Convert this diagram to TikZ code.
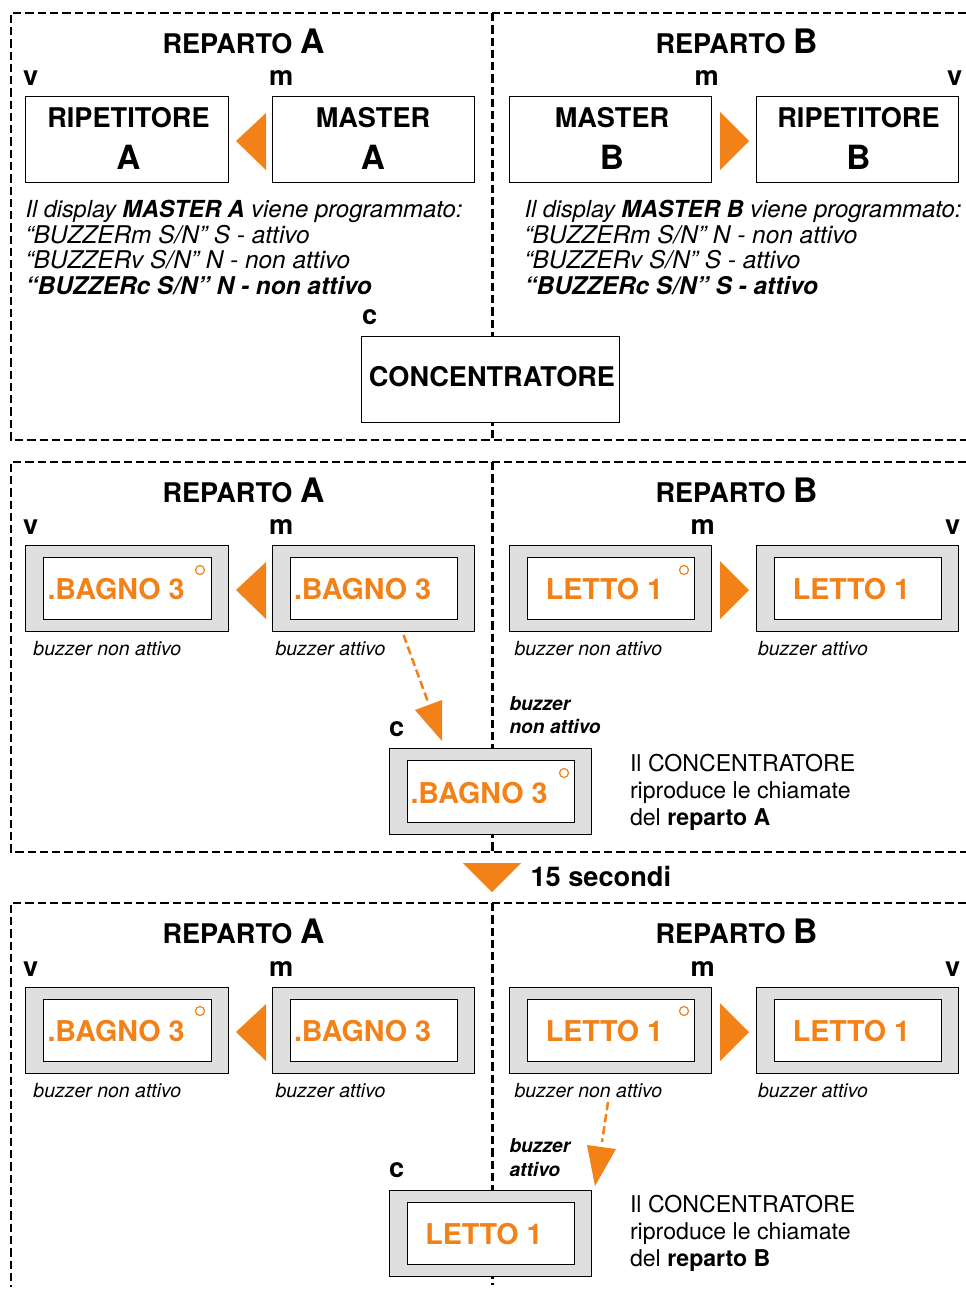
\documentclass[tikz,border=0pt]{standalone}
\usepackage{fontspec}
\setmainfont{TeX Gyre Heros}
\definecolor{orng}{HTML}{F28118}
\definecolor{panelgray}{HTML}{E0DFE0}
\newcommand{\fsz}[1]{\fontsize{#1}{#1}\selectfont}
\tikzset{
  x=0.75pt,y=-0.75pt,
  frameline/.style={line width=1.9pt,dash pattern=on 6.2pt off 3pt},
  plainbox/.style={draw=black,line width=0.85pt,fill=white,shift={(-0.4,-0.4)}},
  outerbox/.style={draw=black,line width=0.85pt,fill=panelgray,shift={(-0.4,-0.4)}},
  innerbox/.style={draw=black,line width=0.6pt,fill=white,shift={(-0.4,-0.4)}},
  led/.style={draw=orng,line width=0.9pt,fill=white},
  tri/.style={fill=orng,draw=none},
  lbl/.style={anchor=base west,inner sep=0pt,outer sep=0pt},
  ctr/.style={anchor=base,inner sep=0pt,outer sep=0pt},
  title/.style={lbl,font=\fsz{20.3}\bfseries},
  tag/.style={lbl,font=\fsz{20.4}\bfseries},
  big/.style={ctr,font=\fsz{20.35}\bfseries},
  bigger/.style={ctr,font=\fsz{25}\bfseries},
  prog/.style={lbl,font=\fsz{18.3}\itshape},
  progb/.style={lbl,font=\fsz{18.3}\bfseries\itshape},
  buz/.style={lbl,font=\fsz{14.6}\itshape},
  buzb/.style={lbl,font=\fsz{14.4}\bfseries\itshape},
  info/.style={lbl,font=\fsz{17.35}},
  disp/.style={ctr,font=\fsz{21.5}\bfseries,text=orng},
  orngdash/.style={draw=orng,line width=1.9pt,dash pattern=on 6.2pt off 3pt},
}
\newcommand{\dispbox}[6]{%
  \draw[outerbox] (#2,#3) rectangle (#4,#5);
  \draw[innerbox] ({#2+17.5},{#3+12}) rectangle ({#4-17.5},{#5-12});
}
\begin{document}
\begin{tikzpicture}
\useasboundingbox (0,0) rectangle (966,1289);
\fill[white] (0,0) rectangle (966,1289);
% frames
\draw[frameline] (966,13) -- (11,13) -- (11,440) -- (966,440);
\draw[frameline] (492.5,13) -- (492.5,440);
\draw[frameline] (966,462) -- (11,462) -- (11,852) -- (966,852);
\draw[frameline] (492.5,462) -- (492.5,852);
\draw[frameline] (966,903) -- (11,903) -- (11,1287);
\draw[frameline] (492.5,903) -- (492.5,1285);

% ===== Panel 1 =====
\node[title] (t1a) at (162.5,53) {REPARTO \fsz{25.3}A};
\node[title] (t1b) at (655.5,53) {REPARTO \fsz{25.3}B};
\node[tag] (v1a) at (23,85) {v};
\node[tag] (m1a) at (269,85) {m};
\node[tag] (m1b) at (694.5,85) {m};
\node[tag] (v1b) at (947,85) {v};
\draw[plainbox] (26,97) rectangle (229,183);
\draw[plainbox] (273,97) rectangle (475,183);
\draw[plainbox] (510,97) rectangle (712,183);
\draw[plainbox] (757,97) rectangle (959,183);
\node[big] (r1at) at (128.5,127) {RIPETITORE};
\node[bigger] (r1al) at (128.5,169) {A};
\node[big] (m1at) at (373,127) {MASTER};
\node[bigger] (m1al) at (373,169) {A};
\node[big] (m1bt) at (612,127) {MASTER};
\node[bigger] (m1bl) at (612,169) {B};
\node[big] (r1bt) at (858.5,127) {RIPETITORE};
\node[bigger] (r1bl) at (858.5,169) {B};
\fill[tri] (266,113) -- (236,141) -- (266,170) -- cycle;
\fill[tri] (720,112) -- (749,141) -- (720,170) -- cycle;
\node[prog,font=\fsz{17.6}\itshape] (p1a1) at (25.5,217) {Il display {\bfseries MASTER A} {\fsz{17.95}viene programmato:}};
\node[prog] (p1a2) at (25.5,243) {“BUZZERm S/N” S - attivo};
\node[prog] (p1a3) at (25.5,268) {“BUZZERv S/N” N - non attivo};
\node[progb] (p1a4) at (25.5,294) {“BUZZERc S/N” N - non attivo};
\node[prog,font=\fsz{17.6}\itshape] (p1b1) at (524.5,217) {Il display {\bfseries MASTER B} {\fsz{17.95}viene programmato:}};
\node[prog] (p1b2) at (524.5,243) {“BUZZERm S/N” N - non attivo};
\node[prog] (p1b3) at (524.5,268) {“BUZZERv S/N” S - attivo};
\node[progb] (p1b4) at (524.5,294) {“BUZZERc S/N” S - attivo};
\node[tag] (c1) at (362,324) {c};
\draw[plainbox] (362,337) rectangle (620,423);
\node[big] (conc) at (492,386) {CONCENTRATORE};

% ===== Panel 2 =====
\node[title] (t2a) at (162.5,502) {REPARTO \fsz{25.3}A};
\node[title] (t2b) at (655.5,502) {REPARTO \fsz{25.3}B};
\node[tag] (v2a) at (23,534) {v};
\node[tag] (m2a) at (269,534) {m};
\node[tag] (m2b) at (690.5,534) {m};
\node[tag] (v2b) at (945,534) {v};
\dispbox{b2a}{26}{546}{229}{632}{}
\dispbox{b2b}{273}{546}{475}{632}{}
\dispbox{b2c}{510}{546}{712}{632}{}
\dispbox{b2d}{757}{546}{959}{632}{}
\node[disp] (d2a) at (116,599) {.BAGNO 3};
\node[disp] (d2b) at (362.5,599) {.BAGNO 3};
\node[disp] (d2c) at (604.5,599) {LETTO 1};
\node[disp] (d2d) at (851.5,599) {LETTO 1};
\draw[led] (200,570) circle[radius=4.5];
\draw[led] (684,570) circle[radius=4.5];
\fill[tri] (266,562) -- (236,590) -- (266,619) -- cycle;
\fill[tri] (720,561) -- (749,590) -- (720,619) -- cycle;
\node[buz] (z2a) at (33.5,655) {buzzer non attivo};
\node[buz] (z2b) at (275.5,655) {buzzer attivo};
\node[buz] (z2c) at (514.5,655) {buzzer non attivo};
\node[buz] (z2d) at (758,655) {buzzer attivo};
\coordinate (s2) at (403.5,635);
\coordinate (e2) at (428,702);
\draw[orngdash] (s2) -- (e2);
\fill[tri] (415,710) -- (442,700) -- (442,741) -- cycle;
\node[tag] (c2) at (389,736) {c};
\node[buzb] (n2a) at (509.5,710) {buzzer};
\node[buzb] (n2b) at (509.5,733) {non attivo};
\dispbox{b2e}{390}{749}{592}{835}{}
\node[disp] (d2e) at (479,803.5) {.BAGNO 3};
\draw[led] (564,773) circle[radius=4.5];
\node[info] (i2a) at (630,771) {Il CONCENTRATORE};
\node[info] (i2b) at (630,798) {riproduce le chiamate};
\node[info] (i2c) at (630,825) {del {\bfseries reparto A}};

% ===== 15 secondi =====
\fill[tri] (463,863) -- (521,863) -- (492,892) -- cycle;
\node[title,font=\fsz{20.4}\bfseries] (sec) at (530.5,886) {15 secondi};

% ===== Panel 3 =====
\node[title] (t3a) at (162.5,943) {REPARTO \fsz{25.3}A};
\node[title] (t3b) at (655.5,943) {REPARTO \fsz{25.3}B};
\node[tag] (v3a) at (23,976) {v};
\node[tag] (m3a) at (269,976) {m};
\node[tag] (m3b) at (690.5,976) {m};
\node[tag] (v3b) at (945,976) {v};
\dispbox{b3a}{26}{988}{229}{1074}{}
\dispbox{b3b}{273}{988}{475}{1074}{}
\dispbox{b3c}{510}{988}{712}{1074}{}
\dispbox{b3d}{757}{988}{959}{1074}{}
\node[disp] (d3a) at (116,1041) {.BAGNO 3};
\node[disp] (d3b) at (362.5,1041) {.BAGNO 3};
\node[disp] (d3c) at (604.5,1041) {LETTO 1};
\node[disp] (d3d) at (851.5,1041) {LETTO 1};
\draw[led] (200,1011) circle[radius=4.5];
\draw[led] (684,1011) circle[radius=4.5];
\fill[tri] (266,1004) -- (236,1032) -- (266,1061) -- cycle;
\fill[tri] (720,1003) -- (749,1032) -- (720,1061) -- cycle;
\node[buz] (z3a) at (33.5,1097) {buzzer non attivo};
\node[buz] (z3b) at (275.5,1097) {buzzer attivo};
\node[buz] (z3c) at (514.5,1097) {buzzer non attivo};
\node[buz] (z3d) at (758,1097) {buzzer attivo};
\coordinate (s3) at (608,1102);
\coordinate (e3) at (602,1142);
\draw[orngdash] (s3) -- (e3);
\fill[tri] (587,1145) -- (616,1149) -- (595,1186) -- cycle;
\node[tag] (c3) at (389,1177) {c};
\node[buzb] (n3a) at (509.5,1152) {buzzer};
\node[buzb] (n3b) at (509.5,1176) {attivo};
\dispbox{b3e}{390}{1191}{592}{1277}{}
\node[disp] (d3e) at (484,1244) {LETTO 1};
\node[info] (i3a) at (630,1212) {Il CONCENTRATORE};
\node[info] (i3b) at (630,1239) {riproduce le chiamate};
\node[info] (i3c) at (630,1266) {del {\bfseries reparto B}};
\end{tikzpicture}
\end{document}
